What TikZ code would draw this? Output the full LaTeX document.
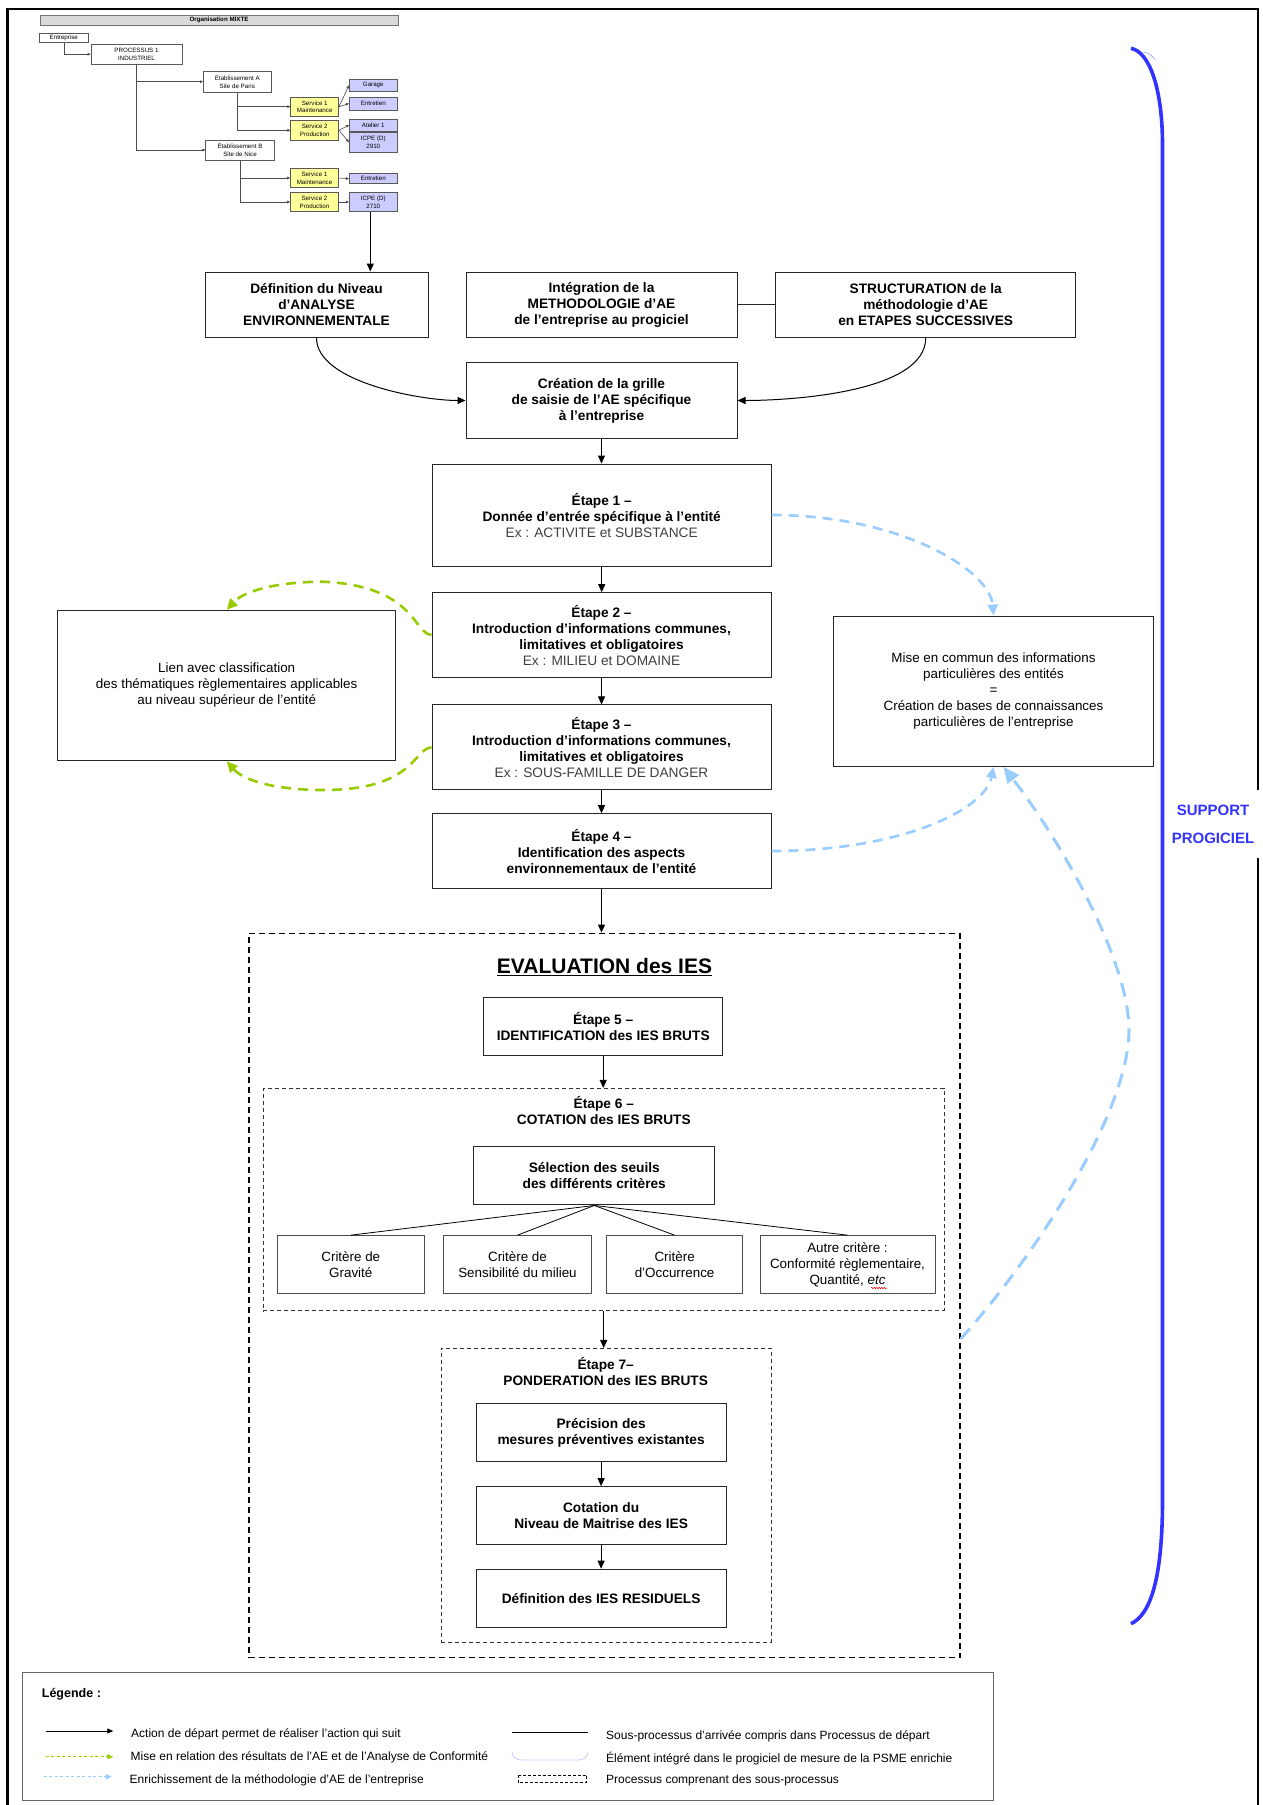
\documentclass[tikz,border=0pt]{standalone}
\usepackage{fontspec}
\setmainfont{Liberation Sans}
\usepackage{xcolor}
\usepackage{tikz}
\usetikzlibrary{arrows.meta,calc,decorations.pathmorphing}

\definecolor{vertAC}{HTML}{99CC00}
\definecolor{bleuAE}{HTML}{99CCFF}
\definecolor{bleuPG}{HTML}{3333FF}
\definecolor{jauneorg}{HTML}{FFFF99}
\definecolor{violetorg}{HTML}{CCCCFF}

\newcommand{\exemple}[1]{{\mdseries\color{black!75}#1}}

\tikzset{
  boite/.style={draw=black!85,line width=1pt,fill=white,align=center,inner sep=0pt,font=\fontsize{13.7}{16}\selectfont\bfseries},
  boitefine/.style={boite,font=\fontsize{13.4}{16}\selectfont},
  critere/.style={boitefine,draw=black!70},
  cadre/.style={draw=black,line width=1.4pt,dash pattern=on 6pt off 4pt,inner sep=0pt},
  sousprocessus/.style={draw=black!80,line width=0.8pt,dash pattern=on 4pt off 3pt,inner sep=0pt},
  titre/.style={align=center,inner sep=0pt,font=\fontsize{13.7}{16}\selectfont\bfseries},
  orgbox/.style={draw=black!65,line width=0.6pt,fill=white,align=center,inner sep=0pt,font=\fontsize{6.2}{7.6}\selectfont},
  orgfleche/.style={draw=black!70,line width=0.6pt,-{Triangle[length=3pt,width=2.6pt]}},
  fleche/.style={line width=1pt,-{Triangle[length=8pt,width=7pt]}},
  lienvert/.style={draw=vertAC,line width=2.6pt,dash pattern=on 10pt off 7pt,-{Triangle[length=11pt,width=10pt]}},
  lienbleu/.style={draw=bleuAE,line width=2.6pt,dash pattern=on 10pt off 7pt,-{Triangle[length=11pt,width=10pt]}},
  legende/.style={anchor=west,inner sep=0pt,font=\fontsize{12}{14}\selectfont}
}

\begin{document}
\begin{tikzpicture}[x=1pt,y=-1pt]
    \useasboundingbox (0,0) rectangle (1262,1805);
    \fill[white] (0,0) rectangle (1262,1805);
    \draw[line width=2.5pt] (7.5,1806) |- (1258,9) -- (1258,1806);

    \node (orga) at (219,20.4) [orgbox,fill=black!15,draw=black!55,minimum width=358,minimum height=10.7,font=\fontsize{6.2}{7.6}\selectfont\bfseries] {Organisation MIXTE};
    \node (entreprise) at (63.8,38.2) [orgbox,minimum width=49,minimum height=9] {Entreprise};
    \node (processus) at (136.5,54.2) [orgbox,minimum width=91,minimum height=19.7] {PROCESSUS 1\\INDUSTRIEL};
    \node (etabA) at (237.3,81.7) [orgbox,minimum width=68,minimum height=21.3] {Établissement A\\Site de Paris};
    \node (etabB) at (240,150) [orgbox,minimum width=68.6,minimum height=20] {Établissement B\\Site de Nice};
    \node (servA1) at (314.7,106.7) [orgbox,fill=jauneorg,minimum width=48,minimum height=19.3] {Service 1\\Maintenance};
    \node (servA2) at (314.7,130.3) [orgbox,fill=jauneorg,minimum width=48,minimum height=19.3] {Service 2\\Production};
    \node (servB1) at (314.5,178) [orgbox,fill=jauneorg,minimum width=48,minimum height=19.4] {Service 1\\Maintenance};
    \node (servB2) at (314.5,202) [orgbox,fill=jauneorg,minimum width=48,minimum height=19.4] {Service 2\\Production};
    \node (garage) at (373.3,85.3) [orgbox,fill=violetorg,minimum width=48,minimum height=12.7] {Garage};
    \node (entretienA) at (373.3,103.5) [orgbox,fill=violetorg,minimum width=48,minimum height=13] {Entretien};
    \node (atelier) at (373.3,125) [orgbox,fill=violetorg,minimum width=48,minimum height=12] {Atelier 1};
    \node (icpeA) at (373.3,142.3) [orgbox,fill=violetorg,minimum width=48,minimum height=20] {ICPE (D)\\2910};
    \node (entretienB) at (373.3,178.7) [orgbox,fill=violetorg,minimum width=48,minimum height=10] {Entretien};
    \node (icpeB) at (373.3,202) [orgbox,fill=violetorg,minimum width=48,minimum height=19.4] {ICPE (D)\\2710};
    \draw[orgfleche] (entreprise.south) |- (processus.west);
    \foreach \a/\b in {processus/etabA,processus/etabB,etabA/servA1,etabA/servA2,etabB/servB1,etabB/servB2}
    {
      \draw[orgfleche] (\a.south) |- (\b.west);
    }
    \foreach \a/\b in {servA1/garage,servA1/entretienA,servA2/atelier,servA2/icpeA,servB1/entretienB,servB2/icpeB}
    {
      \draw[orgfleche] (\a.east) -- (\b.west);
    }

    \node (definition) at (316.5,304.7) [boite,minimum width=223,minimum height=65.4] {Définition du Niveau\\d’ANALYSE\\ENVIRONNEMENTALE};
    \node (integration) at (601.5,304.7) [boite,minimum width=271,minimum height=65.4] {Intégration de la\\METHODOLOGIE d’AE\\de l’entreprise au progiciel};
    \node (structuration) at (925.7,304.7) [boite,minimum width=299.5,minimum height=65.4] {STRUCTURATION de la\\méthodologie d’AE\\en ETAPES SUCCESSIVES};
    \node (creation) at (601.5,400.5) [boite,minimum width=271,minimum height=76] {Création de la grille\\de saisie de l’AE spécifique\\à l’entreprise};
    \node (etape1) at (601.7,515) [boite,minimum width=339,minimum height=102] {Étape 1 –\\Donnée d’entrée spécifique à l’entité\\\exemple{Ex : ACTIVITE et SUBSTANCE}};
    \node (etape2) at (601.5,635) [boite,minimum width=339,minimum height=84.6] {Étape 2 –\\Introduction d’informations communes,\\limitatives et obligatoires\\\exemple{Ex : MILIEU et DOMAINE}};
    \node (etape3) at (601.5,747.3) [boite,minimum width=339,minimum height=84.7] {Étape 3 –\\Introduction d’informations communes,\\limitatives et obligatoires\\\exemple{Ex : SOUS-FAMILLE DE DANGER}};
    \node (etape4) at (601.5,851) [boite,minimum width=339,minimum height=74.6] {Étape 4 –\\Identification des aspects\\environnementaux de l’entité};
    \node (lien) at (226.7,685.5) [boitefine,minimum width=338.3,minimum height=150.4] {Lien avec classification\\des thématiques règlementaires applicables\\au niveau supérieur de l'entité};
    \node (mise) at (993.5,691.2) [boitefine,minimum width=320.4,minimum height=150.3] {Mise en commun des informations\\particulières des entités\\=\\Création de bases de connaissances\\particulières de l'entreprise};

    \node (evaluation) at (604.4,1295.5) [cadre,minimum width=711,minimum height=724.4] {};
    \node (titreeval) at (604.5,966.7) [inner sep=0pt,font=\fontsize{21}{24}\selectfont\bfseries] {\underline{EVALUATION des IES}};
    \node (etape5) at (603.2,1026.8) [boite,minimum width=239.3,minimum height=58.3] {Étape 5 –\\IDENTIFICATION des IES BRUTS};
    \node (etape6) at (603.7,1199.5) [sousprocessus,minimum width=680.7,minimum height=222.4] {};
    \node (titre6) at (603.8,1110) [titre] {Étape 6 –\\COTATION des IES BRUTS};
    \node (selection) at (594.3,1175.8) [boite,minimum width=241.2,minimum height=58.3] {Sélection des seuils\\des différents critères};
    \node (gravite) at (350.8,1264.8) [critere,minimum width=147.2,minimum height=58.3] {Critère de\\Gravité};
    \node (sensibilite) at (517.5,1264.8) [critere,minimum width=147.1,minimum height=58.3] {Critère de\\Sensibilité du milieu};
    \node (occurrence) at (674.6,1264.8) [critere,minimum width=136.4,minimum height=58.3] {Critère\\d'Occurrence};
    \node (autre) at (847.5,1264.8) [critere,minimum width=175,minimum height=58.3] {Autre critère :\\Conformité règlementaire,\\Quantité, \textit{etc}};
    \node (etape7) at (606.2,1495.2) [sousprocessus,minimum width=330.1,minimum height=293.7] {};
    \node (titre7) at (605.7,1371.7) [titre] {Étape 7–\\PONDERATION des IES BRUTS};
    \node (precision) at (601.1,1432.5) [boite,minimum width=250.2,minimum height=58.3] {Précision des\\mesures préventives existantes};
    \node (cotation) at (601.1,1515.8) [boite,minimum width=250.2,minimum height=58.3] {Cotation du\\Niveau de Maitrise des IES};
    \node (residuels) at (601.1,1598.3) [boite,minimum width=250.2,minimum height=58.3] {Définition des IES RESIDUELS};

    \draw[fleche] ([xshift=-3pt]icpeB.south) -- ([xshift=-3pt]icpeB.south |- definition.north);
    \draw[fleche] (definition.south) to[out=-90,in=180,looseness=0.7] (creation.west);
    \draw[fleche] (structuration.south) to[out=-90,in=0,looseness=0.7] (creation.east);
    \draw[line width=1pt,black!85] (integration.east) -- (structuration.west);
    \foreach \a/\b in {creation/etape1,etape1/etape2,etape2/etape3,etape3/etape4,etape4/evaluation,etape5/etape6,etape6/etape7,precision/cotation,cotation/residuels}
    {
      \draw[fleche] (\a.south) -- (\a.south |- \b.north);
    }
    \foreach \c in {gravite,sensibilite,occurrence,autre}
    {
      \draw[line width=0.8pt] (selection.south) -- (\c.north);
    }
    \draw[red,line width=0.5pt,decorate,decoration={snake,amplitude=0.8pt,segment length=2.5pt}] (871,1288) -- (887,1288);

    \draw[lienvert] (etape2.west) .. controls (413,633) and (415,586) .. (323,581.7) .. controls (280,581.7) and (245,590) .. (lien.north);
    \draw[lienvert] (etape3.west) .. controls (413,749) and (415,790) .. (323,790) .. controls (280,790) and (245,782) .. (lien.south);
    \draw[lienbleu] (etape1.east) .. controls (900,515) and (990,570) .. (mise.north);
    \draw[lienbleu] (etape4.east) .. controls (900,851) and (985,810) .. (mise.south);
    \draw[lienbleu,line width=3pt,dash pattern=on 14pt off 9pt,-{Triangle[length=16pt,width=14pt]}] ($(evaluation.north east)!0.56!(evaluation.south east)$) .. controls (1040,1250) and (1129,1110) .. (1129,1030) .. controls (1129,960) and (1060,840) .. ($(mise.south)+(10,0)$);

    \draw[bleuPG,line width=3.6pt] (1131,48.3) .. controls (1150,52) and (1162.5,90) .. (1162.5,145) -- (1162.5,1500) .. controls (1162.5,1580) and (1150,1615) .. (1131,1623.7);
    \draw[bleuPG!50,line width=0.6pt] (1143,52) .. controls (1149,53) .. (1155,59.5);
    \node (support) at (1213,824) [fill=white,minimum width=96,minimum height=68,inner sep=0pt,text=bleuPG,align=center,font=\fontsize{15}{28}\selectfont\bfseries] {SUPPORT\\PROGICIEL};

    \node (legende) at (21.7,1672.3) [draw=black!60,line width=1pt,anchor=north west,minimum width=971,minimum height=127.7,inner sep=0pt] {};
    \node (titrelegende) at (41.7,1694.3) [legende,font=\fontsize{12.5}{14}\selectfont\bfseries] {Légende :};
    \node (leg1) at (131,1734) [legende] {Action de départ permet de réaliser l'action qui suit};
    \node (leg2) at (130.5,1757.7) [legende] {Mise en relation des résultats de l'AE et de l'Analyse de Conformité};
    \node (leg3) at (129.5,1780) [legende] {Enrichissement de la méthodologie d'AE de l'entreprise};
    \node (leg4) at (606,1736) [legende] {Sous-processus d'arrivée compris dans Processus de départ};
    \node (leg5) at (606,1759) [legende] {Élément intégré dans le progiciel de mesure de la PSME enrichie};
    \node (leg6) at (606,1780) [legende] {Processus comprenant des sous-processus};
    \draw[line width=0.8pt,-{Triangle[length=6pt,width=5pt]}] (45.7,1731) -- (113.3,1731);
    \draw[vertAC,line width=0.8pt,dash pattern=on 3pt off 2.5pt,-{Triangle[length=6pt,width=5pt]}] (45.7,1756.7) -- (113.3,1756.7);
    \draw[bleuAE,line width=0.8pt,dash pattern=on 3pt off 2.5pt,-{Triangle[length=6pt,width=5pt]}] (43.7,1776.7) -- (111.7,1776.7);
    \draw[line width=0.8pt] (512.3,1732.7) -- (588.3,1732.7);
    \draw[violetorg,line width=0.8pt] (512,1752) to[out=-90,in=180] (522,1760) -- (578,1760) to[out=0,in=-90] (588,1752);
    \draw[line width=0.7pt,dash pattern=on 3pt off 2pt] (518,1775) rectangle (586.7,1782.7);
\end{tikzpicture}
\end{document}
